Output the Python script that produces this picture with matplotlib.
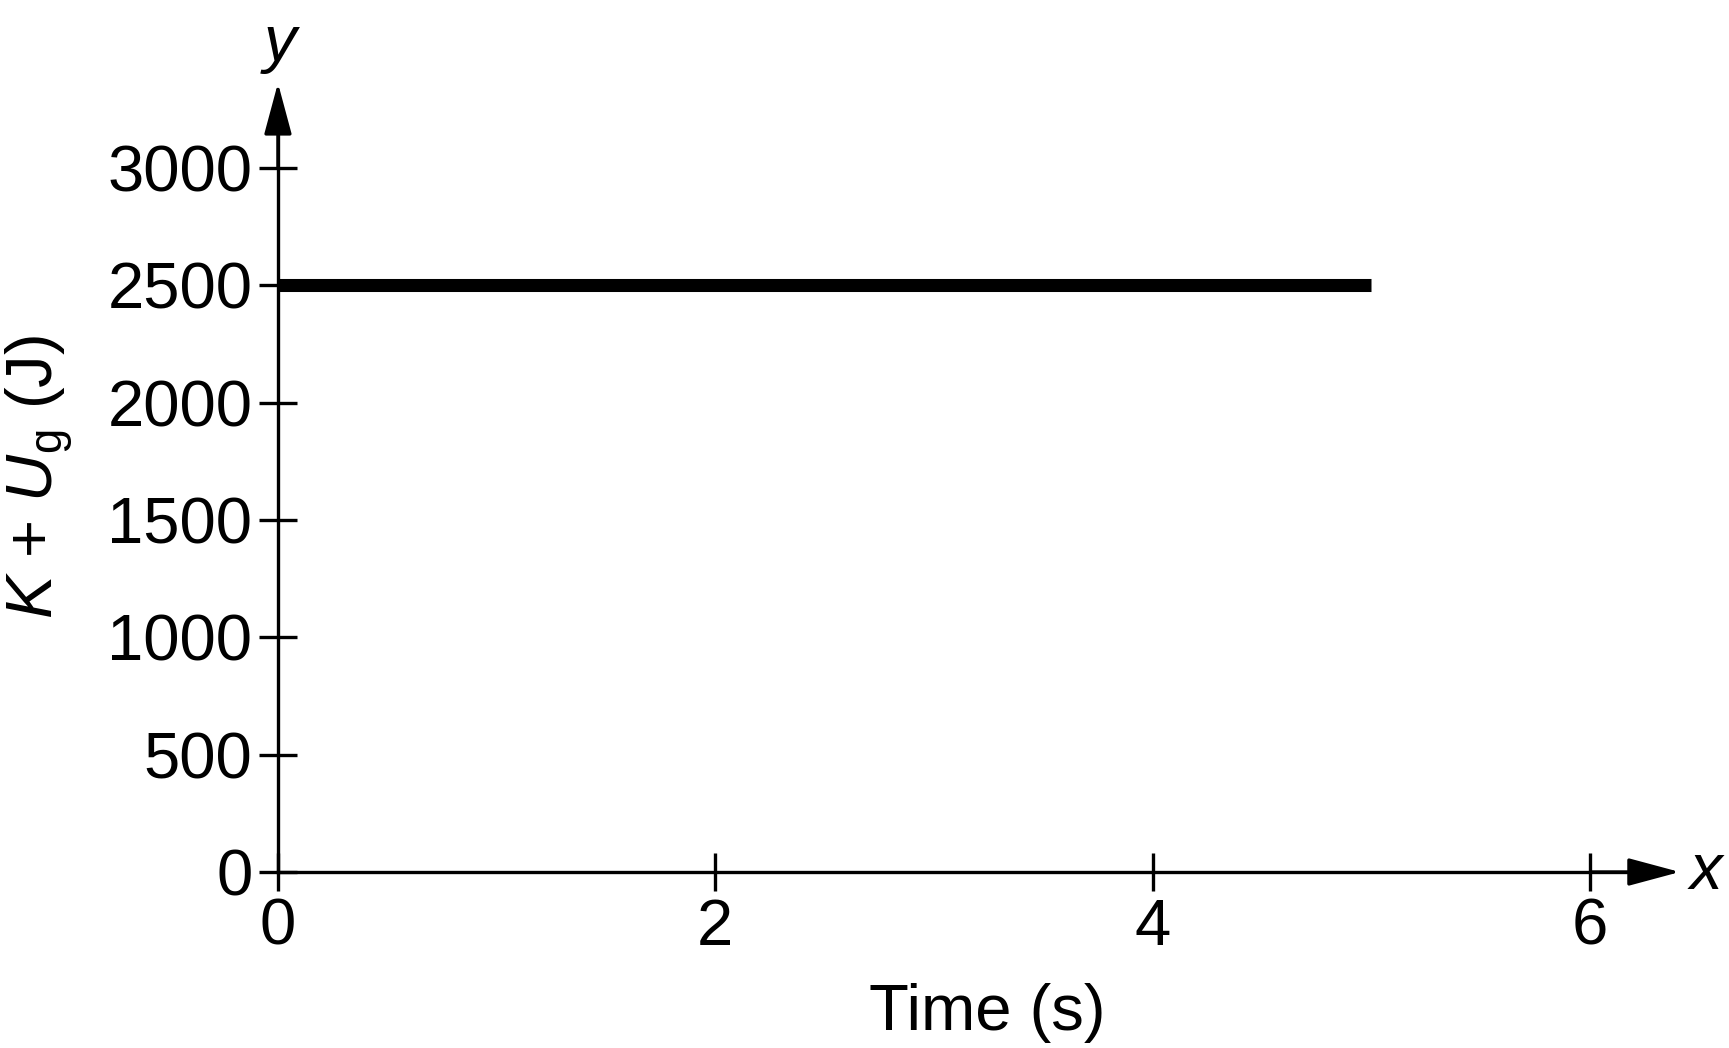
import matplotlib
matplotlib.use("Agg")
import matplotlib.pyplot as plt

plt.rcParams['font.family'] = ['Liberation Sans', 'DejaVu Sans']
plt.rcParams['mathtext.fontset'] = 'custom'
plt.rcParams['mathtext.rm'] = 'Liberation Sans'
plt.rcParams['mathtext.it'] = 'Liberation Sans:italic'

# data
time_s = [0, 5]
energy_J = [2500, 2500]
x_ticks = [0, 2, 4, 6]
y_ticks = [0, 500, 1000, 1500, 2000, 2500, 3000]

W, H = 1729, 1048
fig = plt.figure(figsize=(W / 100, H / 100), dpi=100)
ax = fig.add_axes([0, 0, 1, 1])
ax.set_xlim(-1.271, 6.635)
ax.set_ylim(-750, 3716)
ax.patch.set_visible(False)

ax.plot(time_s, energy_J, color='black', lw=9.4, solid_capstyle='butt', zorder=3)

for s in ['top', 'right']:
    ax.spines[s].set_visible(False)
ax.spines['left'].set_position(('data', 0))
ax.spines['bottom'].set_position(('data', 0))
ax.spines['left'].set_bounds(0, 3250)
ax.spines['bottom'].set_bounds(0, 6.3)
for s in ['left', 'bottom']:
    ax.spines[s].set_linewidth(2.4)

ax.set_xticks(x_ticks)
ax.set_yticks(y_ticks)
ax.set_xticklabels([str(v) for v in x_ticks])
ax.set_yticklabels([str(v) for v in y_ticks])
ax.tick_params(direction='inout', length=27, width=2.4, labelsize=47, pad=5, color='black')

# arrow heads
arrow_kw = dict(arrowstyle='-|>,head_length=3.2,head_width=0.86', color='black', lw=2.4,
                shrinkA=0, shrinkB=0, mutation_scale=10)
ax.annotate('', xy=(0, 3362), xytext=(0, 3000), arrowprops=arrow_kw)
ax.annotate('', xy=(6.41, 0), xytext=(6.0, 0), arrowprops=arrow_kw)

# axis letters
ax.text(0.01, 3530, 'y', fontsize=47, style='italic', ha='center', va='center')
ax.text(6.53, 0, 'x', fontsize=47, style='italic', ha='center', va='center')

# axis titles
fig.text(987 / W, 1 - 1013 / H, 'Time (s)', fontsize=47, ha='center', va='center')
fig.text(40 / W, 1 - 477 / H, r'$K$ + $U_\mathrm{g}$ (J)', fontsize=47, rotation=90,
         ha='center', va='center')

fig.savefig('out.png', dpi=100)
